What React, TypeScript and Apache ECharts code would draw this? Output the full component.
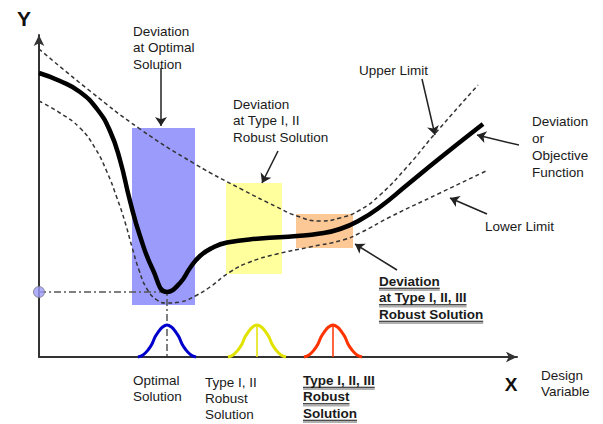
import React, { useEffect, useRef } from "react";
import * as echarts from "echarts";

// Objective (deviation) function
const objectiveX = [0, 21, 41, 58, 71, 81, 91, 101, 114, 128, 141, 151, 161, 173, 188, 221, 258, 281, 301, 321, 341, 368, 401, 444];
const objectiveY = [284, 276, 265, 248, 226, 197, 156, 121, 87, 65, 74, 89, 101, 109, 114.5, 118.5, 121, 123.5, 128, 137, 150, 172, 199, 233];

// Upper limit
const upperX = [0, 51, 101, 156, 204, 238, 258, 281, 301, 321, 341, 368, 394, 439];
const upperY = [308, 266, 228, 193, 167, 150, 141, 136, 139, 147, 162, 190, 221, 272];

// Lower limit
const lowerX = [0, 21, 41, 56, 68, 78, 86, 93, 100, 108, 118, 128, 141, 158, 171, 191, 211, 238, 271, 304, 321, 351, 401, 449];
const lowerY = [256, 244, 229, 209, 185, 159, 135, 110, 87, 68, 57, 54, 55, 62, 70, 85, 95, 103, 110, 117, 124, 140, 164, 187];

// Deviation bands (x range, y range)
const bandNames = ["Optimal", "Type I, II", "Type I, II, III"];
const bandX0 = [93, 187, 257];
const bandX1 = [156, 243, 314];
const bandY0 = [52, 83, 109];
const bandY1 = [229, 174, 143];
const bandColors = ["#9b9bfb", "#ffff9e", "#fbc896"];

// Solutions and their distributions
const solutionX = [128, 218, 294];
const bellColors = ["#0000cc", "#e2e200", "#ff3300"];
const bellOffsets = [-29, -24, -19, -15, -12, -8, -5, 0, 5, 8, 12, 15, 19, 24, 29];
const bellHeights = [0, 2, 7, 13, 20, 26, 29.5, 32, 29.5, 26, 20, 13, 7, 2, 0];

// Optimum point
const optimumX = 128;
const optimumY = 65;

// Annotation arrows (from -> to)
const arrowFrom = [[122, 289], [239, 206], [383, 278], [488, 210], [448, 143], [358, 87]];
const arrowTo = [[122, 231], [223, 174], [396, 222], [438, 222], [411, 159], [316, 113]];

const FONT = "'Liberation Sans', Arial, Helvetica, sans-serif";

export default function App() {
  const ref = useRef<HTMLDivElement>(null);

  useEffect(() => {
    document.body.style.margin = "0";
    if (!ref.current) return;
    const chart = echarts.init(ref.current, undefined, { renderer: "svg" });

    const zip = (xs: number[], ys: number[]) => xs.map((x, i) => [x, ys[i]]);

    const cnv = document.createElement("canvas");
    const ctx = cnv.getContext("2d")!;
    const measure = (t: string, size: number, weight: string) => {
      ctx.font = `${weight} ${size}px ${FONT}`;
      return ctx.measureText(t).width;
    };

    const graphics: any[] = [];
    const label = (
      text: string,
      x: number,
      top: number,
      lh: number,
      opts: { bold?: boolean; size?: number; underline?: boolean } = {}
    ) => {
      const size = opts.size ?? 13.5;
      const weight = opts.bold ? "bold" : "normal";
      graphics.push({
        type: "text",
        x,
        y: top,
        z: 20,
        silent: true,
        style: {
          text,
          fill: "#1a1a1a",
          fontFamily: FONT,
          fontSize: size,
          fontWeight: weight,
          lineHeight: lh,
          align: "left",
          verticalAlign: "top",
        },
      });
      if (opts.underline) {
        text.split("\n").forEach((line, i) => {
          const w = measure(line, size, weight);
          const yy = top + lh * i + lh / 2 + 7;
          graphics.push({
            type: "line",
            z: 19,
            silent: true,
            shape: { x1: x, y1: yy + 1.8, x2: x + w, y2: yy + 1.8 },
            style: { stroke: "#b0b0b0", lineWidth: 2 },
          });
          graphics.push({
            type: "line",
            z: 20,
            silent: true,
            shape: { x1: x, y1: yy, x2: x + w, y2: yy },
            style: { stroke: "#111", lineWidth: 1 },
          });
        });
      }
    };

    label("Deviation\nat Optimal\nSolution", 133, 22.75, 16.5);
    label("Deviation\nat Type I, II\nRobust Solution", 233, 96, 16.5);
    label("Upper Limit", 359, 62, 16.5);
    label("Deviation\nor\nObjective\nFunction", 532, 112.5, 17);
    label("Lower Limit", 485, 218, 16.5);
    label("Deviation\nat Type I, II, III\nRobust Solution", 379, 273, 16.5, { bold: true, underline: true });
    label("Optimal\nSolution", 133, 372, 16.5);
    label("Type I, II\nRobust\nSolution", 205, 374, 16);
    label("Type I, II, III\nRobust\nSolution", 303, 372, 16.5, { bold: true, underline: true });
    label("Design\nVariable", 541, 367, 16);

    graphics.push({
      type: "text",
      x: 511,
      y: 384,
      z: 20,
      silent: true,
      style: { text: "X", fill: "#111", fontFamily: FONT, fontSize: 19, fontWeight: "bold", align: "center", verticalAlign: "middle" },
    });
    graphics.push({
      type: "text",
      x: 24,
      y: 18,
      z: 20,
      silent: true,
      style: { text: "Y", fill: "#111", fontFamily: FONT, fontSize: 21, fontWeight: "bold", align: "center", verticalAlign: "middle" },
    });

    const bandData = bandNames.map((n, i) => ({
      name: n,
      value: [bandX0[i], bandX1[i], bandY0[i], bandY1[i]],
      itemStyle: { color: bandColors[i] },
    }));

    const bellSeries: any[] = [];
    solutionX.forEach((c, k) => {
      bellSeries.push({
        type: "line",
        name: "Distribution " + bandNames[k],
        data: bellOffsets.map((o, i) => [c + o, bellHeights[i]]),
        smooth: 0.4,
        symbol: "none",
        clip: false,
        z: 4,
        lineStyle: { color: bellColors[k], width: 3 },
      });
      if (k > 0) {
        bellSeries.push({
          type: "line",
          name: "Centre " + bandNames[k],
          data: [
            [c, 0],
            [c, bellHeights[bellOffsets.indexOf(0)]],
          ],
          symbol: "none",
          z: 4,
          lineStyle: { color: bellColors[k], width: 1.5 },
        });
      }
    });

    const axisCommon = {
      type: "value" as const,
      splitLine: { show: false },
      axisTick: { show: false },
      axisLabel: { show: false },
      axisLine: {
        show: true,
        symbol: ["none", "arrow"],
        symbolSize: [8, 11],
        lineStyle: { color: "#333", width: 2 },
      },
    };

    chart.setOption({
      animation: false,
      backgroundColor: "#ffffff",
      grid: { left: 39, top: 35, width: 478, height: 322 },
      xAxis: { ...axisCommon, min: 0, max: 478 },
      yAxis: { ...axisCommon, min: 0, max: 322 },
      graphic: graphics,
      series: [
        {
          type: "custom",
          name: "Deviation bands",
          silent: true,
          z: 1,
          data: bandData,
          renderItem: (params: any, api: any) => {
            const p0 = api.coord([api.value(0), api.value(3)]);
            const p1 = api.coord([api.value(1), api.value(2)]);
            return {
              type: "rect",
              shape: { x: p0[0], y: p0[1], width: p1[0] - p0[0], height: p1[1] - p0[1] },
              style: { fill: bandColors[params.dataIndex] },
            };
          },
        },
        {
          type: "line",
          name: "Upper Limit",
          data: zip(upperX, upperY),
          smooth: 0.5,
          symbol: "none",
          clip: false,
          z: 3,
          lineStyle: { color: "#333", width: 1.5, type: [4, 3] },
        },
        {
          type: "line",
          name: "Lower Limit",
          data: zip(lowerX, lowerY),
          smooth: 0.5,
          symbol: "none",
          clip: false,
          z: 3,
          lineStyle: { color: "#333", width: 1.5, type: [4, 3] },
        },
        {
          type: "line",
          name: "Optimum reference",
          data: [
            [0, optimumY],
            [optimumX, optimumY],
            [optimumX, 0],
          ],
          symbol: "none",
          clip: false,
          z: 3,
          lineStyle: { color: "#555", width: 1.5, type: [7, 3, 2, 3] },
        },
        {
          type: "line",
          name: "Objective Function",
          data: zip(objectiveX, objectiveY),
          smooth: 0.5,
          symbol: "none",
          clip: false,
          z: 5,
          lineStyle: { color: "#000", width: 4.5 },
        },
        ...bellSeries,
        {
          type: "scatter",
          name: "Optimal value",
          data: [[0, optimumY]],
          symbolSize: 11,
          clip: false,
          z: 6,
          itemStyle: { color: "#9b9bfb", borderColor: "#777", borderWidth: 1 },
        },
        {
          type: "lines",
          name: "Annotations",
          coordinateSystem: "cartesian2d",
          silent: true,
          z: 7,
          symbol: ["none", "arrow"],
          symbolSize: 9,
          lineStyle: { color: "#222", width: 1.5, opacity: 1, curveness: 0 },
          data: arrowFrom.map((f, i) => ({ coords: [f, arrowTo[i]] })),
        },
      ],
    });

    return () => chart.dispose();
  }, []);

  return <div ref={ref} style={{ width: 603, height: 424 }} />;
}
